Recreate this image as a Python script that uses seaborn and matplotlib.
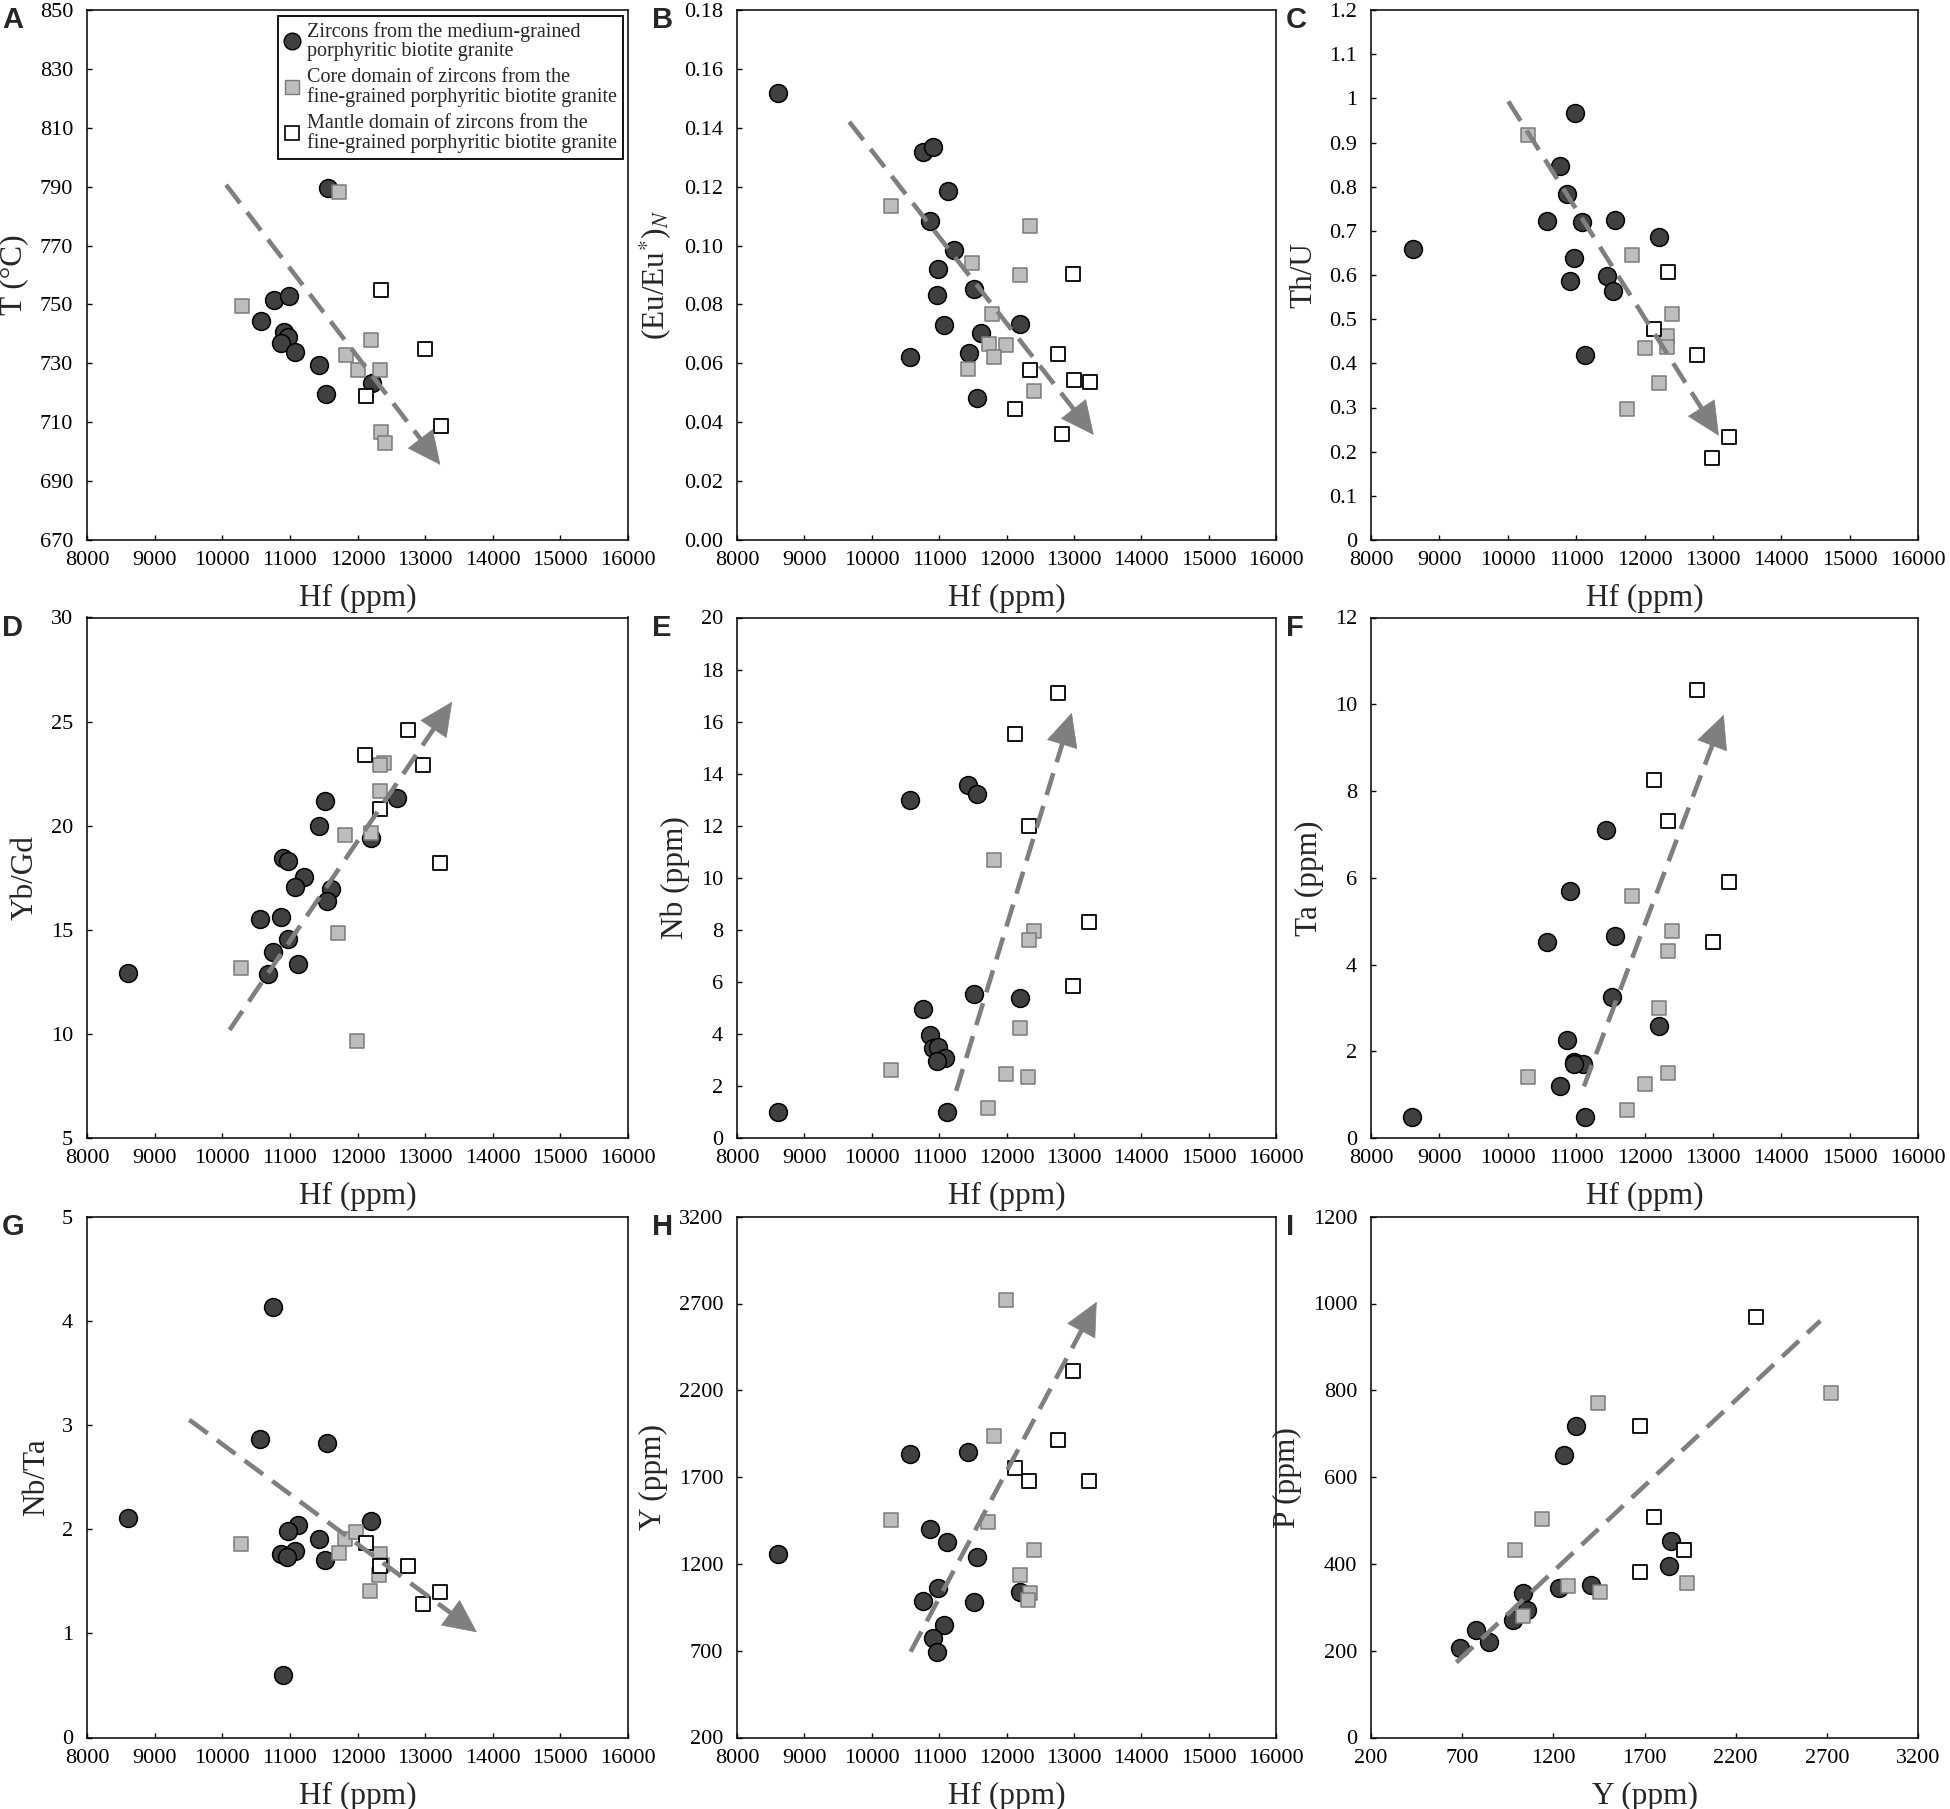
import matplotlib
matplotlib.use("Agg")
import matplotlib.pyplot as plt
from matplotlib.lines import Line2D
import seaborn as sns

# ------------------------------ data
# each group: (Hf or Y values, y values)

A_MED = ([11560, 10763, 10990, 10567, 10917, 10978, 10868, 11082, 11437, 11535, 12216],
         [789.5, 751.6, 752.9, 744.3, 740.6, 738.9, 737, 734, 729.6, 719.7, 723.2])
A_CORE = ([10292, 11732, 12203, 11823, 12001, 12332, 12344, 12406],
          [749.4, 788.3, 738, 732.7, 727.8, 727.8, 706.7, 703])
A_MANTLE = ([12344, 12994, 12130, 13233], [754.9, 735, 718.9, 708.7])

B_MED = ([8609, 10755, 10915, 11130, 10866, 11216, 10983, 10971, 11524, 11075, 12207, 11616, 10571, 11444, 11567],
         [0.1519, 0.1318, 0.1334, 0.1186, 0.1083, 0.0984, 0.0922, 0.0833, 0.0853, 0.0729, 0.0734, 0.0704, 0.0621, 0.0634, 0.0483])
B_CORE = ([10288, 12342, 11493, 12207, 11788, 11733, 11998, 11819, 11432, 12403],
          [0.1133, 0.1067, 0.0940, 0.0899, 0.0767, 0.0666, 0.0662, 0.0621, 0.0581, 0.0506])
B_MANTLE = ([12988, 12760, 12342, 13000, 13234, 12127, 12822],
            [0.0902, 0.0631, 0.0576, 0.0543, 0.0536, 0.0445, 0.0361])

C_MED = ([8607, 10980, 10762, 10871, 10574, 11083, 11563, 12212, 10974, 10913, 11448, 11533, 11132],
         [0.659, 0.967, 0.846, 0.784, 0.722, 0.720, 0.725, 0.687, 0.638, 0.586, 0.597, 0.564, 0.419])
C_CORE = ([10294, 11824, 12401, 12334, 12000, 12334, 12206, 11739],
          [0.918, 0.645, 0.511, 0.463, 0.434, 0.437, 0.355, 0.297])
C_MANTLE = ([12346, 12134, 12765, 13232, 12989], [0.607, 0.478, 0.418, 0.233, 0.185])

D_MED = ([8600, 11517, 12590, 11431, 12203, 10904, 10966, 11205, 11070, 11603, 11554, 10561, 10862, 10972, 10757, 11119, 10678],
         [12.94, 21.18, 21.33, 20.0, 19.39, 18.45, 18.3, 17.54, 17.07, 16.98, 16.40, 15.50, 15.61, 14.58, 13.93, 13.37, 12.90])
D_CORE = ([12387, 12332, 12332, 11811, 12203, 11719, 10279, 11989],
          [23.03, 22.92, 21.65, 19.57, 19.63, 14.87, 13.18, 9.67])
D_MANTLE = ([12749, 12118, 12975, 12332, 13221], [24.62, 23.40, 22.90, 20.81, 18.19])

E_MED = ([8609, 11124, 10565, 11432, 11561, 11524, 12207, 10755, 10860, 10915, 10983, 11081, 10971],
         [0.99, 0.99, 13.0, 13.56, 13.23, 5.55, 5.37, 4.96, 3.96, 3.45, 3.48, 3.08, 2.94])
E_CORE = ([11813, 12403, 12330, 12194, 10282, 11998, 12324, 11727],
          [10.70, 7.97, 7.61, 4.23, 2.62, 2.45, 2.36, 1.17])
E_MANTLE = ([12760, 12121, 12330, 13228, 12988], [17.09, 15.52, 12.0, 8.31, 5.83])

F_MED = ([8601, 11132, 11442, 10913, 10574, 11563, 11527, 12219, 10871, 10974, 11096, 10974, 10762],
         [0.48, 0.48, 7.09, 5.70, 4.51, 4.66, 3.24, 2.58, 2.25, 1.76, 1.71, 1.70, 1.19])
F_CORE = ([11824, 12407, 12340, 12212, 12340, 10294, 12006, 11739],
          [5.59, 4.77, 4.32, 2.99, 1.50, 1.41, 1.24, 0.64])
F_MANTLE = ([12771, 12134, 12346, 13232, 12995], [10.33, 8.26, 7.30, 5.91, 4.53])

G_MED = ([10745, 10561, 11554, 8600, 12203, 11125, 10972, 11431, 11076, 10862, 10960, 11523, 10898],
         [4.13, 2.87, 2.83, 2.11, 2.08, 2.04, 1.98, 1.91, 1.79, 1.76, 1.73, 1.70, 0.60])
G_CORE = ([10279, 11817, 11983, 11726, 12332, 12369, 12314, 12185],
          [1.86, 1.91, 1.97, 1.77, 1.76, 1.66, 1.56, 1.41])
G_MANTLE = ([12124, 12332, 12749, 13214, 12975], [1.87, 1.65, 1.65, 1.40, 1.28])

H_MED = ([8603, 10565, 11432, 10860, 11124, 11555, 10977, 10755, 11524, 12200, 11075, 10909, 10964],
         [1256, 1835, 1846, 1401, 1328, 1238, 1059, 987, 978, 1037, 847, 773, 690])
H_CORE = ([11998, 11819, 10282, 11727, 12403, 12194, 12342, 12324],
          [2719, 1934, 1453, 1442, 1278, 1135, 1032, 992])
H_MANTLE = ([12988, 12760, 12127, 12336, 13228], [2314, 1916, 1753, 1677, 1677])

I_MED = ([688, 775, 847, 979, 1036, 1058, 1229, 1256, 1326, 1406, 1837, 1846],
         [207, 248, 221, 270, 332, 294, 345, 650, 717, 352, 396, 453])
I_CORE = ([990, 1138, 1445, 1036, 1281, 1456, 1933, 2721],
          [431, 503, 771, 281, 348, 335, 356, 794])
I_MANTLE = ([2314, 1676, 1753, 1917, 1676], [968, 717, 509, 431, 381])

# trend arrows: (start, tip)
A_TREND = ((10058, 790.6), (13225, 695.5))
B_TREND = ((9667, 0.142), (13295, 0.0357))
C_TREND = ((10009, 0.993), (13087, 0.236))
D_TREND = ((10108, 10.19), (13398, 25.95))
E_TREND = ((11253, 1.81), (12969, 16.34))
F_TREND = ((11114, 1.19), (13159, 9.76))
G_TREND = ((9513, 3.05), (13766, 1.01))
H_TREND = ((10577, 694), (13339, 2710))
I_TREND = ((668, 173), (2664, 960))

HF_TICKS = [8000, 9000, 10000, 11000, 12000, 13000, 14000, 15000, 16000]
Y_TICKS_I = [200, 700, 1200, 1700, 2200, 2700, 3200]
A_TICKS = [670, 690, 710, 730, 750, 770, 790, 810, 830, 850]
B_TICKS = [0.00, 0.02, 0.04, 0.06, 0.08, 0.10, 0.12, 0.14, 0.16, 0.18]
C_TICKS = [0, 0.1, 0.2, 0.3, 0.4, 0.5, 0.6, 0.7, 0.8, 0.9, 1, 1.1, 1.2]
D_TICKS = [5, 10, 15, 20, 25, 30]
E_TICKS = [0, 2, 4, 6, 8, 10, 12, 14, 16, 18, 20]
F_TICKS = [0, 2, 4, 6, 8, 10, 12]
G_TICKS = [0, 1, 2, 3, 4, 5]
H_TICKS = [200, 700, 1200, 1700, 2200, 2700, 3200]
I_TICKS = [0, 200, 400, 600, 800, 1000, 1200]

LEGEND_LABELS = [
    "Zircons from the medium-grained\nporphyritic biotite granite",
    "Core domain of zircons from the\nfine-grained porphyritic biotite granite",
    "Mantle domain of zircons from the\nfine-grained porphyritic biotite granite",
]

# ------------------------------ style

sns.set_theme(style="white")
plt.rcParams.update({
    "font.family": ["Liberation Serif", "DejaVu Serif"],
    "mathtext.fontset": "stix",
    "axes.edgecolor": "black",
    "axes.linewidth": 1.1,
    "xtick.direction": "in",
    "ytick.direction": "in",
    "xtick.major.size": 3.8,
    "ytick.major.size": 3.8,
    "xtick.major.width": 1.0,
    "ytick.major.width": 1.0,
    "xtick.color": "black",
    "ytick.color": "black",
})

DARK = "#404040"
CORE_FILL = "#bdbdbd"
CORE_EDGE = "#7a7a7a"
ARROW = "#7f7f7f"

FIG_W, FIG_H = 1950, 1809
COLS = [(87, 541), (737, 539), (1371, 547)]
ROWS = [(10, 540), (617.5, 1138), (1216.7, 1737.5)]

HEAD_SCALE = 20
HEAD_LEN = 1.15
HEAD_WID = 0.55
DASH = (5.0, 2.5)


def fmt_tick(v, mode):
    if mode == "2f":
        return f"{v:.2f}"
    if mode == "g":
        return f"{v:g}"
    return f"{int(v)}"


def draw_trend(ax, trend, head=True):
    (x0, y0), (x1, y1) = trend
    if head:
        # stop the dashed shaft where the head begins
        p0 = ax.transData.transform((x0, y0))
        p1 = ax.transData.transform((x1, y1))
        d = p1 - p0
        L = (d ** 2).sum() ** 0.5
        head_px = HEAD_LEN * HEAD_SCALE * 100 / 72 - 2
        base = p1 - d / L * head_px
        bx, by = ax.transData.inverted().transform(base)
        sns.lineplot(x=[x0, bx], y=[y0, by], ax=ax, color=ARROW, lw=3.3,
                     zorder=4, legend=False).lines[-1].set_dashes(DASH)
        ax.annotate("", xy=(x1, y1), xytext=(bx, by),
                    arrowprops=dict(arrowstyle=f"-|>,head_length={HEAD_LEN},head_width={HEAD_WID}",
                                    mutation_scale=HEAD_SCALE, color=ARROW, lw=0.5,
                                    shrinkA=0, shrinkB=0),
                    zorder=5)
    else:
        sns.lineplot(x=[x0, x1], y=[y0, y1], ax=ax, color=ARROW, lw=3.3,
                     zorder=4, legend=False).lines[-1].set_dashes(DASH)


PANELS = [
    ("A", A_MED, A_CORE, A_MANTLE, A_TREND, HF_TICKS, A_TICKS, "d", "T (°C)", "Hf (ppm)", True),
    ("B", B_MED, B_CORE, B_MANTLE, B_TREND, HF_TICKS, B_TICKS, "2f", r"(Eu/Eu$^{*}$)$_{N}$", "Hf (ppm)", True),
    ("C", C_MED, C_CORE, C_MANTLE, C_TREND, HF_TICKS, C_TICKS, "g", "Th/U", "Hf (ppm)", True),
    ("D", D_MED, D_CORE, D_MANTLE, D_TREND, HF_TICKS, D_TICKS, "d", "Yb/Gd", "Hf (ppm)", True),
    ("E", E_MED, E_CORE, E_MANTLE, E_TREND, HF_TICKS, E_TICKS, "d", "Nb (ppm)", "Hf (ppm)", True),
    ("F", F_MED, F_CORE, F_MANTLE, F_TREND, HF_TICKS, F_TICKS, "d", "Ta (ppm)", "Hf (ppm)", True),
    ("G", G_MED, G_CORE, G_MANTLE, G_TREND, HF_TICKS, G_TICKS, "d", "Nb/Ta", "Hf (ppm)", True),
    ("H", H_MED, H_CORE, H_MANTLE, H_TREND, HF_TICKS, H_TICKS, "d", "Y (ppm)", "Hf (ppm)", True),
    ("I", I_MED, I_CORE, I_MANTLE, I_TREND, Y_TICKS_I, I_TICKS, "d", "P (ppm)", "Y (ppm)", False),
]

fig = plt.figure(figsize=(FIG_W / 100, FIG_H / 100), dpi=100)
fig.patch.set_facecolor("white")

for i, (letter, med, core, mantle, trend, xt, yt, yfmt, ylab, xlab, head) in enumerate(PANELS):
    r, c = divmod(i, 3)
    left, width = COLS[c]
    top, bottom = ROWS[r]
    ax = fig.add_axes([left / FIG_W, 1 - bottom / FIG_H, width / FIG_W, (bottom - top) / FIG_H])

    sns.scatterplot(x=med[0], y=med[1], ax=ax, marker="o", s=165, color=DARK,
                    edgecolor="black", linewidth=1.1, zorder=3, legend=False)
    sns.scatterplot(x=core[0], y=core[1], ax=ax, marker="s", s=110, color=CORE_FILL,
                    edgecolor=CORE_EDGE, linewidth=1.1, zorder=3, legend=False)
    sns.scatterplot(x=mantle[0], y=mantle[1], ax=ax, marker="s", s=110, color="white",
                    edgecolor="black", linewidth=1.3, zorder=3, legend=False)

    ax.set_xlim(xt[0], xt[-1])
    ax.set_ylim(yt[0], yt[-1])
    ax.set_xticks(xt)
    ax.set_xticklabels([str(v) for v in xt])
    ax.set_yticks(yt)
    ax.set_yticklabels([fmt_tick(v, yfmt) for v in yt])
    ax.tick_params(axis="x", labelsize=16, pad=8, bottom=True, top=False)
    ax.tick_params(axis="y", labelsize=16, pad=10, left=True, right=False)
    for s in ax.spines.values():
        s.set_visible(True)
        s.set_color("black")
        s.set_linewidth(1.1)

    ax.set_xlabel(xlab, fontsize=22.5, labelpad=10)
    ax.set_ylabel(ylab, fontsize=22.5, labelpad=8)

    draw_trend(ax, trend, head=head)

    fig.text((left - 85) / FIG_W, 1 - (top - 4) / FIG_H, letter,
             family=["Liberation Sans", "DejaVu Sans"], fontweight="bold",
             fontsize=21, ha="left", va="top")

    if letter == "A":
        handles = [
            Line2D([], [], ls="none", marker="o", markersize=12, markerfacecolor=DARK,
                   markeredgecolor="black", markeredgewidth=1.0),
            Line2D([], [], ls="none", marker="s", markersize=10, markerfacecolor=CORE_FILL,
                   markeredgecolor=CORE_EDGE, markeredgewidth=1.0),
            Line2D([], [], ls="none", marker="s", markersize=10, markerfacecolor="white",
                   markeredgecolor="black", markeredgewidth=1.2),
        ]
        leg = ax.legend(handles, LEGEND_LABELS, loc="upper right",
                        bbox_to_anchor=(0.990, 0.989), fontsize=14.5, frameon=True,
                        fancybox=False, framealpha=1, edgecolor="black",
                        handlelength=0.8, handletextpad=0.3, labelspacing=0.35,
                        borderpad=0.3, borderaxespad=0)
        leg.get_frame().set_linewidth(1.3)
        for t in leg.get_texts():
            t.set_linespacing(1.0)

fig.savefig("out.png", dpi=100, facecolor="white")
